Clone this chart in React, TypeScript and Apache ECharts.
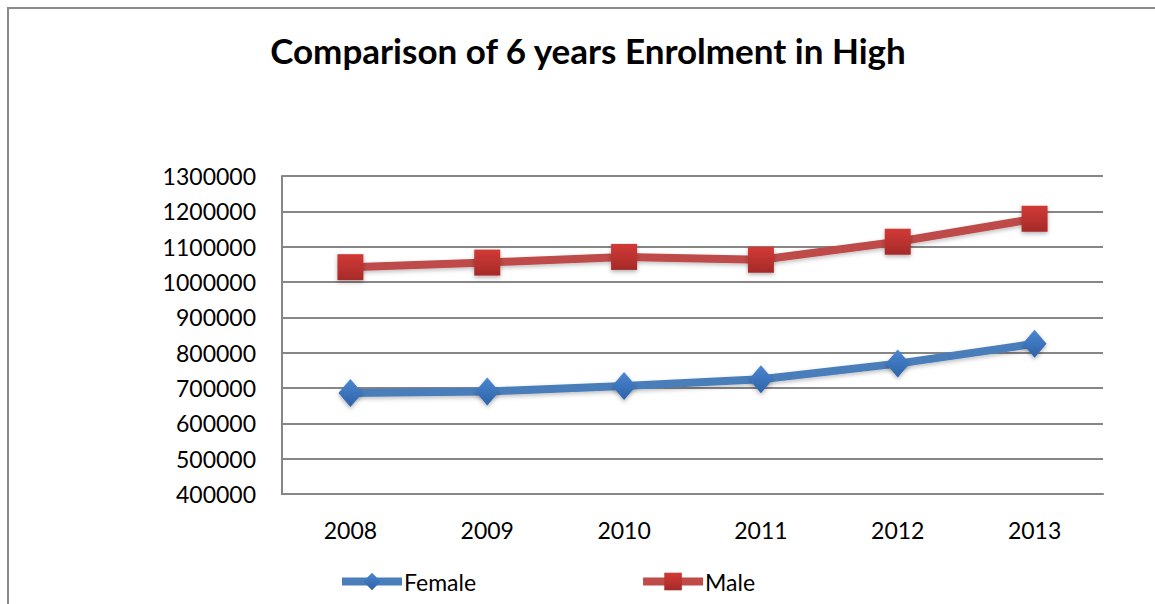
import React, { useEffect, useRef } from "react";
import * as echarts from "echarts";

const years = ["2008", "2009", "2010", "2011", "2012", "2013"];
const female = [686000, 690000, 706000, 725000, 769000, 825000];
const male = [1042000, 1055000, 1071000, 1063000, 1114000, 1179000];
const titleText = "Comparison of 6 years Enrolment in High";

export default function App() {
  const ref = useRef<HTMLDivElement>(null);
  useEffect(() => {
    if (!ref.current) return;
    const chart = echarts.init(ref.current, undefined, { renderer: "svg" });
    const font = "Lato, 'Open Sans', sans-serif";
    chart.setOption({
      animation: false,
      backgroundColor: "#ffffff",
      title: {
        text: titleText,
        left: 583,
        textAlign: "center",
        top: 27,
        textStyle: { fontFamily: font, fontWeight: "bold", fontSize: 35, color: "#000" },
      },
      graphic: [
        {
          type: "rect",
          shape: { x: 8, y: 8, width: 1300, height: 800 },
          style: { fill: "none", stroke: "#8a8a8a", lineWidth: 2 },
          silent: true,
        },
      ],
      legend: {
        left: 333,
        top: 565,
        itemGap: 163,
        itemWidth: 60,
        itemHeight: 22,
        lineStyle: { width: 8 },
        textStyle: { fontFamily: font, fontSize: 23, color: "#000", padding: [0, 0, 0, -3] },
        data: ["Female", "Male"],
      },
      grid: { left: 282, right: 52, top: 176, bottom: 110, containLabel: false },
      xAxis: {
        type: "category",
        data: years,
        boundaryGap: true,
        axisLine: { lineStyle: { color: "#868686", width: 2 } },
        axisTick: { show: false },
        axisLabel: { fontFamily: font, fontSize: 23, color: "#000", margin: 24 },
      },
      yAxis: {
        type: "value",
        min: 400000,
        max: 1300000,
        interval: 100000,
        axisLine: { show: true, lineStyle: { color: "#868686", width: 2 } },
        axisTick: { show: false },
        splitLine: { lineStyle: { color: "#868686", width: 2 } },
        axisLabel: {
          fontFamily: font,
          fontSize: 23,
          color: "#000",
          margin: 26,
          formatter: (v: number) => String(v),
        },
      },
      series: [
        {
          name: "Female",
          type: "line",
          data: female,
          symbol: "diamond",
          symbolSize: [24, 28],
          lineStyle: { color: "#4a7ebb", width: 8, shadowColor: "rgba(0,0,0,0.25)", shadowBlur: 4, shadowOffsetY: 2 },
          itemStyle: {
            color: new echarts.graphic.LinearGradient(0, 0, 0, 1, [
              { offset: 0, color: "#4c86d0" },
              { offset: 1, color: "#2d63a8" },
            ]),
            shadowColor: "rgba(0,0,0,0.3)",
            shadowBlur: 4,
            shadowOffsetY: 2,
          },
        },
        {
          name: "Male",
          type: "line",
          data: male,
          symbol: "rect",
          symbolSize: 26,
          lineStyle: { color: "#be4b48", width: 8, shadowColor: "rgba(0,0,0,0.25)", shadowBlur: 4, shadowOffsetY: 2 },
          itemStyle: {
            color: new echarts.graphic.LinearGradient(0, 0, 0, 1, [
              { offset: 0, color: "#d23a36" },
              { offset: 1, color: "#a52a28" },
            ]),
            shadowColor: "rgba(0,0,0,0.3)",
            shadowBlur: 4,
            shadowOffsetY: 2,
          },
        },
      ],
    });
    return () => chart.dispose();
  }, []);
  return (
    <div
      ref={ref}
      style={{ position: "fixed", left: 0, top: 0, width: 1155, height: 604 }}
    />
  );
}
